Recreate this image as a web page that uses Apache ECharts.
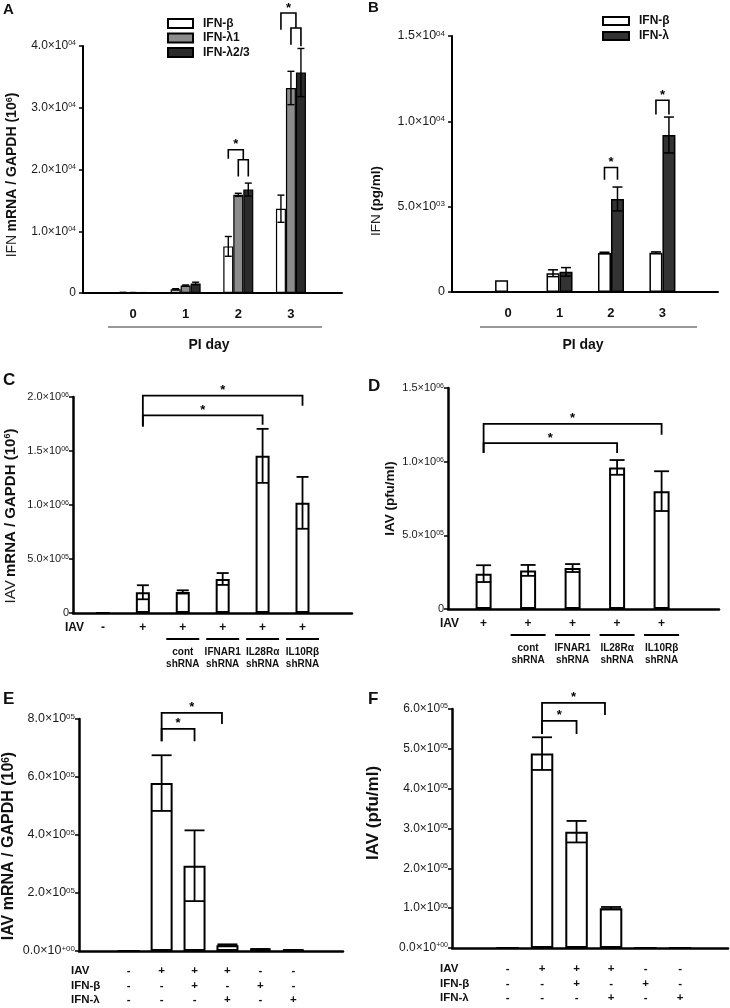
<!DOCTYPE html>
<html><head><meta charset="utf-8">
<script src="https://cdn.jsdelivr.net/npm/echarts@6/dist/echarts.min.js"></script>
<style>html,body{margin:0;padding:0;background:#fff}#c{width:730px;height:1008px}</style>
</head><body><div id="c"></div>
<script>
// ================= DATA =================
// Panel A
const dayCategories = ['0', '1', '2', '3'];
const aSeriesNames = ['IFN-β', 'IFN-λ1', 'IFN-λ2/3'];
const aIFNbeta = [80, 600, 7550, 13650];
const aIFNbetaErr = [30, 100, 1600, 2200];
const aIFNlambda1 = [60, 1200, 15900, 33200];
const aIFNlambda1Err = [20, 100, 250, 2700];
const aIFNlambda23 = [40, 1550, 16750, 35700];
const aIFNlambda23Err = [20, 200, 1050, 3900];
const aYTickLabels = ['0', '1.0×10^04', '2.0×10^04', '3.0×10^04', '4.0×10^04'];
// brackets: [cat1, series1, cat2, series2, top, leftEnd, rightEnd, star]
const aBrackets = [
  [2, 1, 2, 2, 21590, 18880, 18880, 0],
  [2, 0, 2, 1.5, 23200, 21750, 21590, 1],
  [3, 1, 3, 2, 42910, 40210, 39940, 0],
  [3, 0, 3, 1.5, 45340, 42640, 42910, 1]
];
// Panel B
const bSeriesNames = ['IFN-β', 'IFN-λ'];
const bIFNbeta = [690, 1100, 2290, 2300];
const bIFNbetaErr = [0, 200, 40, 50];
const bIFNlambda = [0, 1180, 5450, 9200];
const bIFNlambdaErr = [0, 250, 700, 1050];
const bYTickLabels = ['0', '5.0×10^03', '1.0×10^04', '1.5×10^04'];
const bBrackets = [
  [2, 0, 2, 1, 7294, 6570, 6570, 1],
  [3, 0, 3, 1, 11235, 10394, 10394, 1]
];
// Panel C
const cIAV = ['-', '+', '+', '+', '+', '+'];
const cShRNA = ['', '', 'cont', 'IFNAR1', 'IL28Rα', 'IL10Rβ'];
const cValues = [0, 192000, 195000, 315000, 1455000, 1020000];
const cErrors = [0, 65000, 15000, 55000, 250000, 240000];
const cYTickLabels = ['0', '5.0×10^05', '1.0×10^06', '1.5×10^06', '2.0×10^06'];
const cBrackets = [
  [1, 0, 5, 0, 2012000, 1728000, 1920000, 1],
  [1, 0, 4, 0, 1830000, 1728000, 1744000, 1]
];
// Panel D
const dIAV = ['+', '+', '+', '+', '+'];
const dShRNA = ['', 'cont', 'IFNAR1', 'IL28Rα', 'IL10Rβ'];
const dValues = [240000, 262000, 278000, 961000, 800000];
const dErrors = [57000, 37000, 27000, 50000, 135000];
const dYTickLabels = ['0', '5.0×10^05', '1.0×10^06', '1.5×10^06'];
const dBrackets = [
  [0, 0, 4, 0, 1257000, 1058000, 1183000, 1],
  [0, 0, 3, 0, 1126000, 1058000, 1058000, 1]
];
// Panel E
const eIAV = ['-', '+', '+', '+', '-', '-'];
const eIFNbeta = ['-', '-', '+', '-', '+', '-'];
const eIFNlambda = ['-', '-', '-', '+', '-', '+'];
const eValues = [0, 579000, 294000, 20000, 6000, 3000];
const eErrors = [0, 96000, 122000, 3000, 1000, 500];
const eYTickLabels = ['0.0×10^+00', '2.0×10^05', '4.0×10^05', '6.0×10^05', '8.0×10^05'];
const eBrackets = [
  [1, 0, 3, -0.25, 821000, 723000, 783000, 1],
  [1, 0, 2, 0, 766000, 723000, 723000, 1]
];
// Panel F
const fIAV = ['-', '+', '+', '+', '-', '-'];
const fIFNbeta = ['-', '-', '+', '-', '+', '-'];
const fIFNlambda = ['-', '-', '-', '+', '-', '+'];
const fValues = [0, 488000, 292000, 100000, 0, 0];
const fErrors = [0, 41000, 27000, 3000, 0, 0];
const fYTickLabels = ['0.0×10^+00', '1.0×10^05', '2.0×10^05', '3.0×10^05', '4.0×10^05', '5.0×10^05', '6.0×10^05'];
const fBrackets = [
  [1, 0, 3, -0.27, 615500, 537000, 584700, 1],
  [1, 0, 2, 0, 570400, 537000, 537000, 1]
];

// ================= BUILD =================
const FONT = "'Liberation Sans', Arial, Helvetica, sans-serif";
const grids = [], xAxes = [], yAxes = [], series = [], graphics = [];

function richTick(s) {
  const p = s.split('^');
  return p.length > 1 ? '{m|' + p[0] + '}{s|' + p[1] + '}' : '{m|' + p[0] + '}';
}

function addPanel(gi, o) {
  grids.push(o.grid);
  xAxes.push({
    gridIndex: gi, type: 'value', min: o.xMin, max: o.xMax,
    axisLine: { show: true, onZero: false, lineStyle: { color: '#000', width: o.axW } },
    axisTick: { show: false }, axisLabel: { show: false }, splitLine: { show: false }
  });
  const sfs = Math.round(o.tfs * 0.62);
  yAxes.push({
    gridIndex: gi, type: 'value', min: 0, max: o.yMax, interval: o.yInt,
    axisLine: { show: true, onZero: false, lineStyle: { color: '#000', width: o.axW } },
    axisTick: { show: true, length: 4, lineStyle: { color: '#000', width: 1.5 } },
    splitLine: { show: false },
    axisLabel: {
      margin: o.lblMargin,
      formatter: function (v) { return richTick(o.ticks[Math.round(v / o.yInt)] || ''); },
      rich: {
        m: { fontSize: o.tfs, fontFamily: FONT, color: '#1a1a1a' },
        s: { fontSize: sfs, fontFamily: FONT, color: '#1a1a1a', verticalAlign: 'top' }
      }
    },
    name: o.name, nameLocation: 'middle', nameGap: o.nameGap, nameRotate: 90,
    nameTextStyle: {
      padding: o.namePad || 0,
      rich: {
        n: { fontSize: o.nfs, fontFamily: FONT, color: '#222' },
        b: { fontSize: o.nfs, fontFamily: FONT, fontWeight: 'bold', color: '#111' },
        s: { fontSize: Math.round(o.nfs * 0.62), fontFamily: FONT, fontWeight: 'bold', color: '#111', verticalAlign: 'top' }
      }
    }
  });
}

function addBar(gi, name, vals, color, barW, lw) {
  series.push({
    type: 'bar', name: name, xAxisIndex: gi, yAxisIndex: gi,
    data: vals.map(function (v, i) { return [i, v]; }),
    barWidth: barW, barGap: '0%',
    itemStyle: { color: color, borderColor: '#000', borderWidth: lw },
    silent: true, z: 2
  });
}

function addErr(gi, vals, errs, offset, capW, lw) {
  const data = [];
  vals.forEach(function (v, i) { if (errs[i] > 0) data.push([i, v - errs[i], v + errs[i]]); });
  series.push({
    type: 'custom', xAxisIndex: gi, yAxisIndex: gi, clip: false, silent: true, z: 5,
    data: data, encode: { x: 0, y: 2 },
    renderItem: function (params, api) {
      const x = api.value(0);
      const lo = api.coord([x, api.value(1)]);
      const hi = api.coord([x, api.value(2)]);
      const cx = lo[0] + offset, h = capW / 2;
      const st = { stroke: '#000', lineWidth: lw };
      return {
        type: 'group', children: [
          { type: 'line', shape: { x1: cx, y1: lo[1], x2: cx, y2: hi[1] }, style: st },
          { type: 'line', shape: { x1: cx - h, y1: hi[1], x2: cx + h, y2: hi[1] }, style: st },
          { type: 'line', shape: { x1: cx - h, y1: lo[1], x2: cx + h, y2: lo[1] }, style: st }
        ]
      };
    }
  });
}

function addBrackets(gi, list, barW, nSer, lw) {
  series.push({
    type: 'custom', xAxisIndex: gi, yAxisIndex: gi, clip: false, silent: true, z: 6,
    data: list, encode: { x: 0, y: 4 },
    renderItem: function (params, api) {
      const c1 = api.value(0), s1 = api.value(1), c2 = api.value(2), s2 = api.value(3);
      const top = api.coord([c1, api.value(4)])[1];
      const b1 = api.coord([c1, api.value(5)])[1];
      const b2 = api.coord([c1, api.value(6)])[1];
      const x1 = api.coord([c1, 0])[0] + (s1 - (nSer - 1) / 2) * barW;
      const x2 = api.coord([c2, 0])[0] + (s2 - (nSer - 1) / 2) * barW;
      const ch = [{ type: 'polyline', shape: { points: [[x1, b1], [x1, top], [x2, top], [x2, b2]] },
        style: { stroke: '#000', lineWidth: lw, fill: 'none' } }];
      if (api.value(7)) ch.push({ type: 'text', x: (x1 + x2) / 2, y: top - 5,
        style: { text: '*', font: 'bold 13px ' + FONT, fill: '#000', align: 'center', verticalAlign: 'middle' } });
      return { type: 'group', children: ch };
    }
  });
}

function addTextRow(gi, labels, dy, font) {
  series.push({
    type: 'custom', xAxisIndex: gi, yAxisIndex: gi, clip: false, silent: true, z: 6,
    data: labels.map(function (_, i) { return [i, 0]; }),
    renderItem: function (params, api) {
      const t = labels[params.dataIndex];
      if (!t) return null;
      const p = api.coord([api.value(0), 0]);
      return { type: 'text', x: p[0], y: p[1] + dy,
        style: { text: t, font: font, fill: '#111', align: 'center', verticalAlign: 'middle' } };
    }
  });
}

function addShRNA(gi, labels, half) {
  series.push({
    type: 'custom', xAxisIndex: gi, yAxisIndex: gi, clip: false, silent: true, z: 6,
    data: labels.map(function (_, i) { return [i, 0]; }),
    renderItem: function (params, api) {
      const t = labels[params.dataIndex];
      if (!t) return null;
      const p = api.coord([api.value(0), 0]);
      const f = 'bold 10px ' + FONT;
      return { type: 'group', children: [
        { type: 'line', shape: { x1: p[0] - half, y1: p[1] + 26, x2: p[0] + half, y2: p[1] + 26 }, style: { stroke: '#000', lineWidth: 2 } },
        { type: 'text', x: p[0], y: p[1] + 39, style: { text: t, font: f, fill: '#111', align: 'center', verticalAlign: 'middle' } },
        { type: 'text', x: p[0], y: p[1] + 51, style: { text: 'shRNA', font: f, fill: '#111', align: 'center', verticalAlign: 'middle' } }
      ] };
    }
  });
}

function gText(x, y, text, font, align) {
  graphics.push({ type: 'text', x: x, y: y, silent: true,
    style: { text: text, font: font, fill: '#111', align: align || 'left', verticalAlign: 'middle' } });
}
function gLine(x1, y1, x2, y2, color, w) {
  graphics.push({ type: 'line', silent: true, shape: { x1: x1, y1: y1, x2: x2, y2: y2 }, style: { stroke: color, lineWidth: w } });
}

const rowFont = 'bold 11.5px ' + FONT;

// ---- Panel A ----
addPanel(0, { grid: { left: 83, top: 46, width: 259, height: 247 }, xMin: -0.95, xMax: 3.97, yMax: 40000, yInt: 10000,
  axW: 2, tfs: 12, lblMargin: 7, ticks: aYTickLabels,
  name: '{n|IFN} {b|mRNA / GAPDH (10}{s|6}{b|)}', nameGap: 64, nfs: 14, namePad: [0, 11, 0, 0] });
addBar(0, aSeriesNames[0], aIFNbeta, '#ffffff', 10, 1.2);
addBar(0, aSeriesNames[1], aIFNlambda1, '#8c8c8c', 10, 1.2);
addBar(0, aSeriesNames[2], aIFNlambda23, '#2b2b2b', 10, 1.2);
addErr(0, aIFNbeta, aIFNbetaErr, -10, 7, 1.4);
addErr(0, aIFNlambda1, aIFNlambda1Err, 0, 7, 1.4);
addErr(0, aIFNlambda23, aIFNlambda23Err, 10, 7, 1.4);
addBrackets(0, aBrackets, 10, 3, 1.6);
addTextRow(0, dayCategories, 21, 'bold 13px ' + FONT);

// ---- Panel B ----
addPanel(1, { grid: { left: 452, top: 36, width: 266, height: 256 }, xMin: -1.09, xMax: 4.08, yMax: 15000, yInt: 5000,
  axW: 2, tfs: 12.5, lblMargin: 7, ticks: bYTickLabels,
  name: '{n|IFN} {b|(pg/ml)}', nameGap: 69, nfs: 13.5, namePad: [0, 74, 0, 0] });
addBar(1, bSeriesNames[0], bIFNbeta, '#ffffff', 13, 1.5);
addBar(1, bSeriesNames[1], bIFNlambda, '#333333', 13, 1.5);
addErr(1, bIFNbeta, bIFNbetaErr, -6.5, 10, 1.5);
addErr(1, bIFNlambda, bIFNlambdaErr, 6.5, 10, 1.5);
addBrackets(1, bBrackets, 13, 2, 1.6);
addTextRow(1, dayCategories, 21, 'bold 13px ' + FONT);

// ---- Panel C ----
addPanel(2, { grid: { left: 73, top: 397, width: 279, height: 216 }, xMin: -0.75, xMax: 6.24, yMax: 2000000, yInt: 500000,
  axW: 2.5, tfs: 11, lblMargin: 4, ticks: cYTickLabels,
  name: '{n|IAV} {b|mRNA / GAPDH (10}{s|6}{b|)}', nameGap: 55, nfs: 15, namePad: [0, 22, 0, 0] });
addBar(2, 'IAV mRNA', cValues, '#ffffff', 14, 2);
addErr(2, cValues, cErrors, 0, 12, 1.8);
addBrackets(2, cBrackets, 14, 1, 1.8);
addTextRow(2, cIAV, 15, 'bold 12px ' + FONT);
addShRNA(2, cShRNA, 16.5);

// ---- Panel D ----
addPanel(3, { grid: { left: 448, top: 388, width: 271, height: 221 }, xMin: -0.80, xMax: 5.29, yMax: 1500000, yInt: 500000,
  axW: 2.5, tfs: 11, lblMargin: 4, ticks: dYTickLabels,
  name: '{b|IAV (pfu/ml)}', nameGap: 51, nfs: 13.5 });
addBar(3, 'IAV titer', dValues, '#ffffff', 16, 2);
addErr(3, dValues, dErrors, 0, 15, 1.8);
addBrackets(3, dBrackets, 16, 1, 1.8);
addTextRow(3, dIAV, 15, 'bold 12px ' + FONT);
addShRNA(3, dShRNA, 17.5);

// ---- Panel E ----
addPanel(4, { grid: { left: 79, top: 719, width: 264, height: 232 }, xMin: -1.51, xMax: 6.51, yMax: 800000, yInt: 200000,
  axW: 2.5, tfs: 12.5, lblMargin: 4, ticks: eYTickLabels,
  name: '{b|IAV mRNA / GAPDH (10}{s|6}{b|)}', nameGap: 62, nfs: 16, namePad: [0, 22, 0, 0] });
addBar(4, 'IAV mRNA E', eValues, '#ffffff', 22, 2);
addErr(4, eValues, eErrors, 0, 20, 1.8);
addBrackets(4, eBrackets, 22, 1, 1.8);
addTextRow(4, eIAV, 20, rowFont);
addTextRow(4, eIFNbeta, 34.5, rowFont);
addTextRow(4, eIFNlambda, 48.5, rowFont);

// ---- Panel F ----
addPanel(5, { grid: { left: 452, top: 709, width: 276, height: 239 }, xMin: -1.61, xMax: 6.39, yMax: 600000, yInt: 100000,
  axW: 2.5, tfs: 12, lblMargin: 4, ticks: fYTickLabels,
  name: '{b|IAV (pfu/ml)}', nameGap: 70, nfs: 17, namePad: [0, 0, 0, 31] });
addBar(5, 'IAV titer F', fValues, '#ffffff', 22.5, 2);
addErr(5, fValues, fErrors, 0, 20, 1.8);
addBrackets(5, fBrackets, 22.5, 1, 1.8);
addTextRow(5, fIAV, 21, rowFont);
addTextRow(5, fIFNbeta, 35.5, rowFont);
addTextRow(5, fIFNlambda, 50, rowFont);

// ---- decorations ----
gText(3, 10, 'A', 'bold 15px ' + FONT);
gText(368, 8, 'B', 'bold 15px ' + FONT);
gText(3, 380, 'C', 'bold 17px ' + FONT);
gText(368, 386, 'D', 'bold 17px ' + FONT);
gText(3, 699, 'E', 'bold 17px ' + FONT);
gText(368, 699, 'F', 'bold 17px ' + FONT);
gLine(108, 327, 322, 327, '#777', 1.5);
gText(209, 345, 'PI day', 'bold 14px ' + FONT, 'center');
gLine(480, 327, 697, 327, '#777', 1.5);
gText(583, 345, 'PI day', 'bold 14px ' + FONT, 'center');
gText(65, 628, 'IAV', 'bold 12px ' + FONT);
gText(440, 624, 'IAV', 'bold 12px ' + FONT);
gText(71, 971, 'IAV', rowFont);
gText(71, 985.5, 'IFN-β', rowFont);
gText(71, 999.5, 'IFN-λ', rowFont);
gText(440, 969, 'IAV', rowFont);
gText(440, 983.5, 'IFN-β', rowFont);
gText(440, 998, 'IFN-λ', rowFont);

const chart = echarts.init(document.getElementById('c'));
chart.setOption({
  animation: false,
  backgroundColor: '#fff',
  textStyle: { fontFamily: FONT },
  grid: grids, xAxis: xAxes, yAxis: yAxes, series: series, graphic: graphics,
  legend: [
    { data: aSeriesNames, left: 167, top: 16.5, orient: 'vertical', padding: 0, itemWidth: 25, itemHeight: 9, itemGap: 0.5,
      icon: 'rect', selectedMode: false,
      textStyle: { fontFamily: FONT, fontWeight: 'bold', fontSize: 12, color: '#111', lineHeight: 14, padding: [0, 0, 0, 5] } },
    { data: bSeriesNames, left: 602, top: 13.5, orient: 'vertical', padding: 0, itemWidth: 26, itemHeight: 8, itemGap: 0,
      icon: 'rect', selectedMode: false,
      textStyle: { fontFamily: FONT, fontWeight: 'bold', fontSize: 12, color: '#111', lineHeight: 15, padding: [0, 0, 0, 5] } }
  ]
});
</script></body></html>
